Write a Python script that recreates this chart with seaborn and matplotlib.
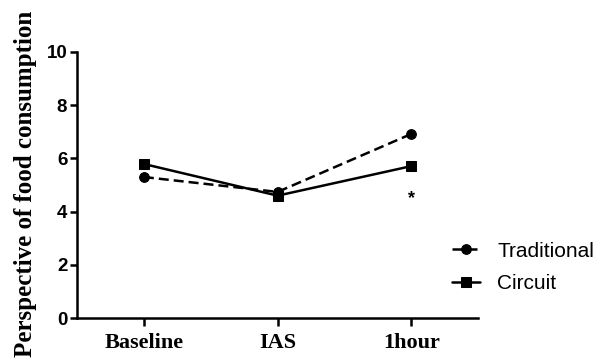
import pandas as pd
import seaborn as sns
import matplotlib.pyplot as plt

timepoints = ['Baseline', 'IAS', '1hour']
traditional = [5.3, 4.74, 6.92]
circuit = [5.79, 4.6, 5.71]

df = pd.DataFrame({
    'pos': list(range(len(timepoints))) * 2,
    'score': traditional + circuit,
    'group': ['Traditional'] * 3 + ['Circuit'] * 3,
})

sns.set_style('ticks', {'axes.edgecolor': 'black', 'xtick.color': 'black',
                        'ytick.color': 'black', 'text.color': 'black'})
fig = plt.figure(figsize=(5.97, 3.61), dpi=100)
ax = fig.add_axes([0.129, 0.119, 0.672, 0.737])

sns.lineplot(data=df, x='pos', y='score', style='group', color='black',
             markers={'Traditional': 'o', 'Circuit': 's'},
             dashes={'Traditional': (4, 2), 'Circuit': ''},
             markersize=7, linewidth=1.8, markeredgecolor='black',
             ax=ax)

ax.set_xlim(-0.5, 2.5)
ax.set_ylim(0, 10)
ax.set_xticks(range(len(timepoints)))
ax.set_xticklabels(timepoints, family='Liberation Serif', fontweight='bold',
                   fontsize=16, color='black')
ax.set_yticks([0, 2, 4, 6, 8, 10])
for t in ax.get_yticklabels():
    t.set_family('Liberation Sans')
    t.set_fontweight('bold')
    t.set_fontsize(13.5)
    t.set_color('black')
ax.set_xlabel('')
ax.set_ylabel('Perspective of food consumption', family='Liberation Serif',
              fontweight='bold', fontsize=18, color='black')
ax.yaxis.set_label_coords(-0.1, 0.506)

for s in ['top', 'right']:
    ax.spines[s].set_visible(False)
for s in ['left', 'bottom']:
    ax.spines[s].set_linewidth(1.8)
ax.tick_params(width=1.8, length=5, color='black', pad=2)
ax.tick_params(axis='x', length=6, pad=5)

ax.text(2, 4.5, '*', ha='center', va='center', family='Liberation Sans',
        fontweight='bold', fontsize=13, color='black')

leg = ax.legend(loc='center left', bbox_to_anchor=(0.888, 0.19), frameon=False,
                prop={'family': 'Liberation Sans', 'size': 15},
                handlelength=1.35, handletextpad=0.82, labelspacing=0.65)
for t in leg.get_texts():
    t.set_color('black')

fig.savefig('out.png', dpi=100)
